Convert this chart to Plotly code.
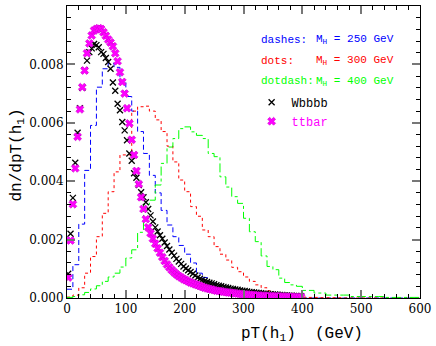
import numpy as np
import plotly.graph_objects as go

# ---------------- data ----------------
bin_edges = list(range(0, 610, 10))  # 10 GeV bins, 0..600

blue_mh250 = [0.0003, 0.00114, 0.00253, 0.00437, 0.00591, 0.00722, 0.00785, 0.00804, 0.0079, 0.0074,
              0.0069, 0.0064, 0.0057, 0.00495, 0.0042, 0.0036, 0.0030, 0.0025, 0.0021, 0.0018,
              0.0015, 0.0012, 0.00085, 0.0007, 0.00055, 0.00045, 0.00035, 0.00025, 0.00018, 0.00012,
              0.0001, 0.00007, 0.00005, 0.00004, 0.00003, 0.00002, 0.00002, 0.00001, 0.00001, 0.00001,
              0, 0, 0, 0, 0, 0, 0, 0, 0, 0,
              0, 0, 0, 0, 0, 0, 0, 0, 0, 0]

red_mh300 = [0.00003, 0.0001, 0.00035, 0.00085, 0.00142, 0.0021, 0.0029, 0.00364, 0.00432, 0.0049,
             0.0049, 0.0064, 0.00655, 0.00657, 0.0064, 0.0061, 0.0057, 0.0052, 0.00466, 0.00404,
             0.00364, 0.00313, 0.0028, 0.00233, 0.0021, 0.00176, 0.0015, 0.0013, 0.00105, 0.0009,
             0.00072, 0.00057, 0.00045, 0.00035, 0.00025, 0.00016, 0.0001, 0.00007, 0.00005, 0.00004,
             0.00003, 0.00002, 0.00002, 0.00001, 0.00001, 0.00001, 0.00001, 0, 0, 0,
             0, 0, 0, 0, 0, 0, 0, 0, 0, 0]

green_mh400 = [0.00002, 0.00005, 0.00011, 0.00019, 0.00031, 0.00042, 0.00057, 0.00072, 0.00085, 0.00106,
               0.00137, 0.00165, 0.00225, 0.0032, 0.00335, 0.00387, 0.00461, 0.00517, 0.00546, 0.0058,
               0.00586, 0.00569, 0.00557, 0.00546, 0.00495, 0.00484, 0.00415, 0.0038, 0.00347, 0.00324,
               0.00273, 0.00227, 0.00193, 0.00144, 0.00108, 0.00097, 0.00068, 0.00053, 0.00045, 0.0004,
               0.00026, 0.00026, 0.00017, 0.00017, 0.0001, 0.0001, 0.0001, 0.0001, 0.00005, 0.00005,
               0.00005, 0.00005, 0.00005, 0.00005, 0.00002, 0.00002, 0.00002, 0.00002, 0.00002, 0.00002]

marker_pt = list(range(2, 400, 4))  # 4 GeV bins, centres

wbbbb = [0.00083, 0.0022, 0.00343, 0.00463, 0.00566, 0.0065, 0.0072, 0.0078, 0.00813, 0.00842,
         0.00855, 0.0087, 0.00866, 0.00859, 0.00842, 0.00836, 0.00822, 0.00808, 0.00785, 0.00738,
         0.0071, 0.00665, 0.00643, 0.00603, 0.00574, 0.0054, 0.00495, 0.0047, 0.00427, 0.00412,
         0.00387, 0.00362, 0.00345, 0.00328, 0.00305, 0.00283, 0.00262, 0.00242, 0.00228, 0.00215,
         0.00203, 0.0019, 0.00178, 0.00166, 0.00155, 0.00145, 0.00134, 0.00125, 0.00117, 0.00108,
         0.00101, 0.00095, 0.00089, 0.00083, 0.00077, 0.0007, 0.00066, 0.00062, 0.00058, 0.00055,
         0.00052, 0.0005, 0.00047, 0.00044, 0.00042, 0.0004, 0.00038, 0.00036, 0.00034, 0.00032,
         0.00031, 0.00029, 0.00028, 0.00026, 0.00025, 0.00024, 0.00022, 0.00021, 0.0002, 0.00019,
         0.00018, 0.00017, 0.00016, 0.00015, 0.00015, 0.00014, 0.00013, 0.00012, 0.00012, 0.00011,
         0.0001, 0.0001, 0.00009, 0.00009, 0.00008, 0.00008, 0.00007, 0.00007, 0.00006, 0.00006]

ttbar = [0.0007, 0.00197, 0.00321, 0.00444, 0.00552, 0.00646, 0.00722, 0.00779, 0.00838, 0.00872,
         0.00899, 0.00916, 0.00921, 0.00924, 0.00921, 0.0091, 0.00898, 0.00885, 0.00875, 0.00862,
         0.00838, 0.00811, 0.00773, 0.0074, 0.007, 0.0065, 0.00598, 0.00542, 0.0049, 0.00435,
         0.0039, 0.00345, 0.00305, 0.0027, 0.00242, 0.00222, 0.00203, 0.00186, 0.0017, 0.00155,
         0.0014, 0.00127, 0.00115, 0.00105, 0.00096, 0.00088, 0.00081, 0.00075, 0.0007, 0.00065,
         0.00061, 0.00057, 0.00053, 0.0005, 0.00047, 0.00044, 0.00041, 0.00038, 0.00035, 0.00033,
         0.00031, 0.00029, 0.00027, 0.00025, 0.00024, 0.00023, 0.00021, 0.0002, 0.00019, 0.00018,
         0.00017, 0.00016, 0.00015, 0.00014, 0.00013, 0.00012, 0.00012, 0.00011, 0.0001, 0.0001,
         0.00009, 0.00009, 0.00008, 0.00008, 0.00007, 0.00007, 0.00006, 0.00006, 0.00006, 0.00005,
         0.00005, 0.00005, 0.00004, 0.00004, 0.00004, 0.00004, 0.00003, 0.00003, 0.00003, 0.00003]

y_tick_vals = [0.000, 0.002, 0.004, 0.006, 0.008, 0.010]
y_tick_text = ["0.000", "0.002", "0.004", "0.006", "0.008", "0.010"]
x_tick_vals = [0, 100, 200, 300, 400, 500, 600]
x_tick_text = ["0", "100", "200", "300", "400", "500", "600"]

# ---------------- figure ----------------
MONO = "Liberation Mono"
SERIF = "DejaVu Serif"

fig = go.Figure()

def hist_trace(vals, color, dash):
    return go.Scatter(x=bin_edges, y=list(vals) + [vals[-1]], mode="lines",
                      line=dict(color=color, width=1, dash=dash, shape="hv"),
                      showlegend=False, hoverinfo="skip")

fig.add_trace(hist_trace(blue_mh250, "#0000ff", "5px,3px"))
fig.add_trace(hist_trace(red_mh300, "#ff0000", "dot"))
fig.add_trace(hist_trace(green_mh400, "#00ff00", "dashdot"))

fig.add_trace(go.Scatter(x=marker_pt, y=wbbbb, mode="markers", name="Wbbbb",
                         marker=dict(symbol="x-thin-open", size=6, color="black",
                                     line=dict(color="black", width=1.3))))
fig.add_trace(go.Scatter(x=marker_pt, y=ttbar, mode="markers",
                         name="<span style='color:#ff00ff'>ttbar</span>",
                         marker=dict(symbol="x", size=7, color="#ff00ff",
                                     line=dict(color="#cc00cc", width=0.6))))

axis_common = dict(showgrid=False, zeroline=False, showline=True, linecolor="black",
                   linewidth=1, mirror="allticks", ticks="inside", ticklen=8,
                   tickcolor="#777777", tickwidth=1.5,
                   tickfont=dict(family=SERIF, size=12, color="black"))

fig.update_xaxes(range=[0, 600], tickvals=x_tick_vals, ticktext=x_tick_text,
                 minor=dict(ticks="inside", ticklen=4, dtick=20, tickcolor="black", tickwidth=1),
                 **axis_common)
fig.update_yaxes(range=[0, 0.010], tickvals=y_tick_vals, ticktext=y_tick_text,
                 minor=dict(ticks="inside", ticklen=4, dtick=0.0004, tickcolor="black", tickwidth=1),
                 **axis_common)

annotations = [
    dict(text="dashes:", x=0.544, y=0.885, color="#0000ff"),
    dict(text="M<sub>H</sub> = 250 GeV", x=0.70, y=0.885, color="#0000ff"),
    dict(text="dots:", x=0.544, y=0.813, color="#ff0000"),
    dict(text="M<sub>H</sub> = 300 GeV", x=0.70, y=0.813, color="#ff0000"),
    dict(text="dotdash:", x=0.544, y=0.742, color="#00ff00"),
    dict(text="M<sub>H</sub> = 400 GeV", x=0.70, y=0.742, color="#00ff00"),
]
for a in annotations:
    fig.add_annotation(text=a["text"], x=a["x"], y=a["y"], xref="paper", yref="paper",
                       xanchor="left", yanchor="middle", showarrow=False,
                       font=dict(family=MONO, size=11, color=a["color"]))

fig.add_annotation(text="pT(h<sub>1</sub>)  (GeV)", x=400, xref="x", y=-0.085, yref="paper",
                   xanchor="center", yanchor="top", showarrow=False,
                   font=dict(family=MONO, size=16, color="black"))
fig.add_annotation(text="dn/dpT(h<sub>1</sub>)", x=-0.14, xref="paper", y=0.49, yref="paper",
                   xanchor="center", yanchor="middle", textangle=-90, showarrow=False,
                   font=dict(family=MONO, size=16, color="black"))

fig.update_layout(
    width=436, height=346,
    margin=dict(l=67, r=13, t=5, b=48),
    paper_bgcolor="white", plot_bgcolor="white",
    legend=dict(x=0.523, y=0.72, xanchor="left", yanchor="top", bgcolor="rgba(0,0,0,0)",
                font=dict(family=MONO, size=12, color="black"), itemwidth=30,
                tracegroupgap=0),
)

fig.write_html("out.html", config={"displayModeBar": False},
               post_script="document.body.style.margin='0';document.body.style.padding='0';")
